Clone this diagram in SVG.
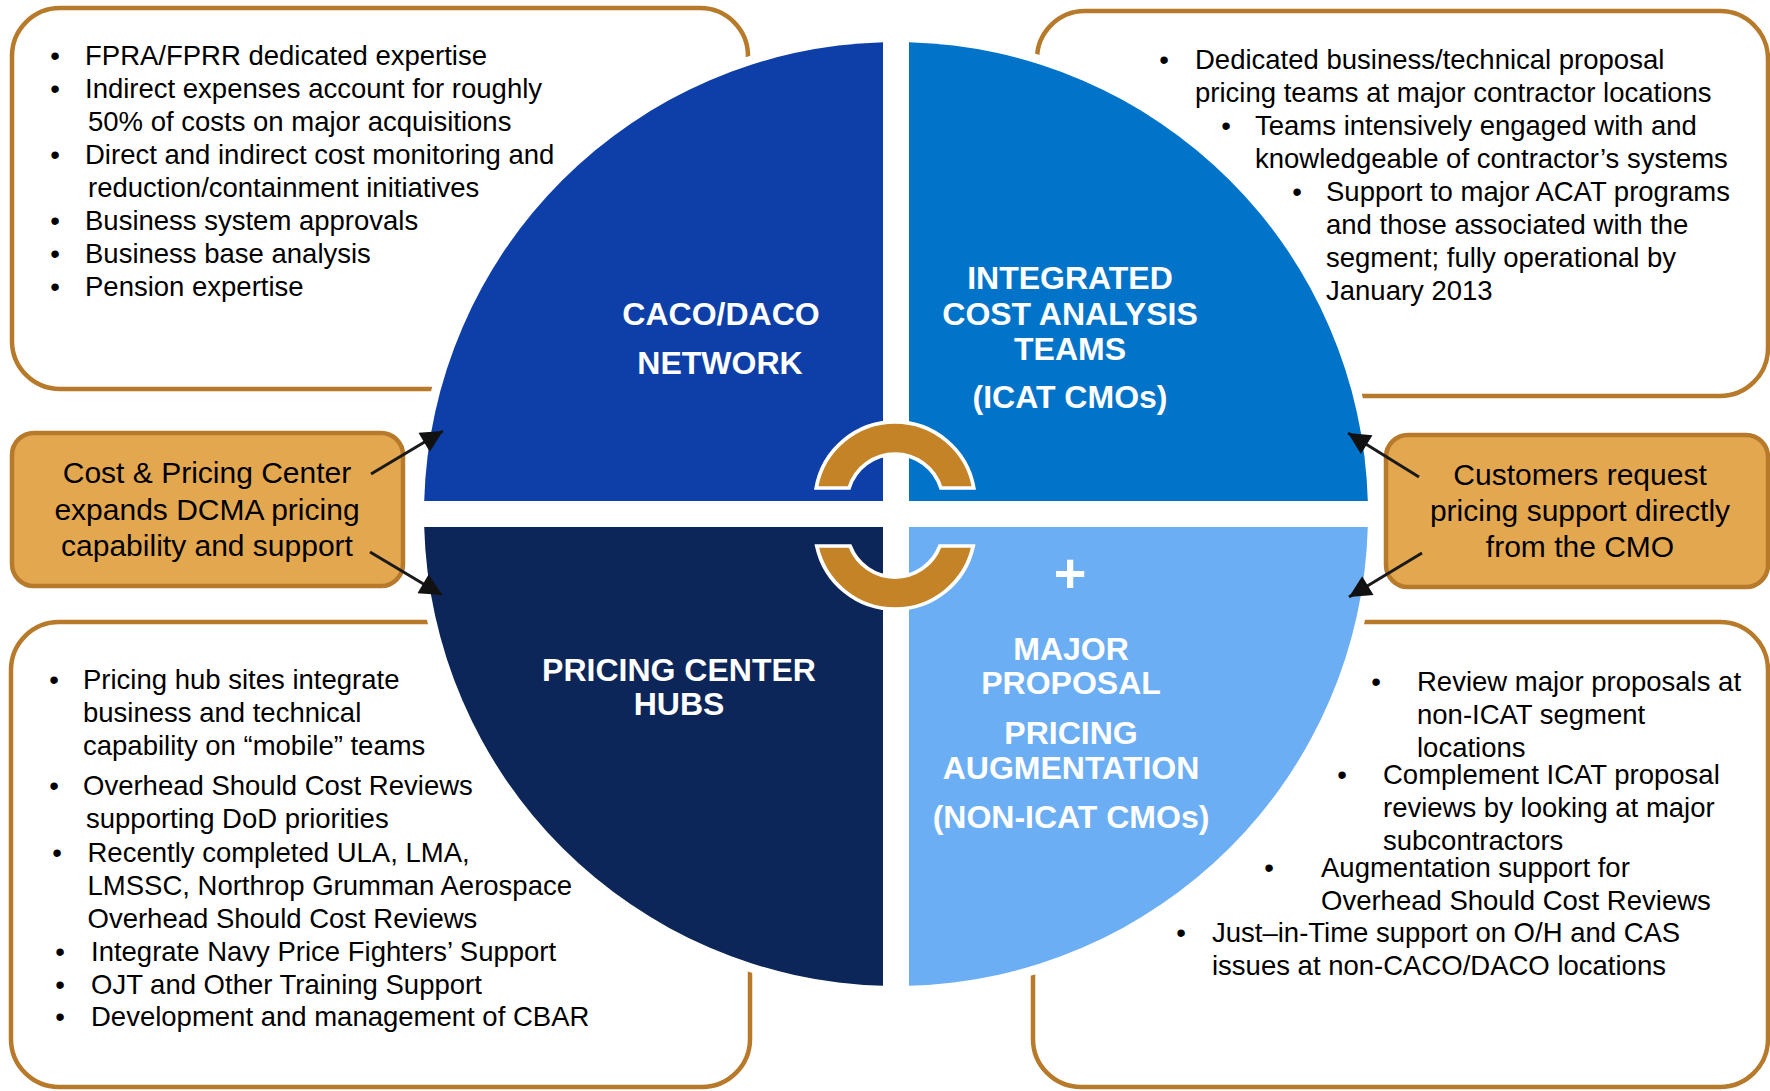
<svg xmlns="http://www.w3.org/2000/svg" width="1770" height="1091" viewBox="0 0 1770 1091">
<defs>
<style>
.box{fill:#FFFFFF;stroke:#B7792A;stroke-width:4.5}
.obox{fill:#E3A84F;stroke:#B7792A;stroke-width:4.5}
.t{font-family:"Liberation Sans",Arial,sans-serif;font-size:27.5px;fill:#000}
.bu{font-family:"Liberation Sans",Arial,sans-serif;font-size:27.5px;fill:#000;text-anchor:middle}
.ot{font-family:"Liberation Sans",Arial,sans-serif;font-size:30px;fill:#000;text-anchor:middle}
.h{font-family:"Liberation Sans",Arial,sans-serif;font-size:32px;font-weight:bold;fill:#FFFFFF;text-anchor:middle}
.arc{fill:#C48326;stroke:#FFFFFF;stroke-width:3.7;stroke-linejoin:miter}
.con{stroke:#1A1A1A;stroke-width:3;fill:none;marker-end:url(#ah)}
</style>
<marker id="ah" viewBox="0 0 10 10" refX="10" refY="5" markerUnits="userSpaceOnUse" markerWidth="27" markerHeight="22" orient="auto">
<path d="M0,0 L10,5 L0,10 z" fill="#111111"/>
</marker>
</defs>
<rect x="0" y="0" width="1770" height="1091" fill="#FFFFFF"/>

<g id="box-tl">
<rect class="box" x="12" y="8" width="736" height="381" rx="48" ry="48"/>
<text class="bu" x="55" y="65">•</text><text class="t" x="85" y="65">FPRA/FPRR dedicated expertise</text>
<text class="bu" x="55" y="98">•</text><text class="t" x="85" y="98">Indirect expenses account for roughly</text>
<text class="t" x="88" y="131">50% of costs on major acquisitions</text>
<text class="bu" x="55" y="164">•</text><text class="t" x="85" y="164">Direct and indirect cost monitoring and</text>
<text class="t" x="88" y="197">reduction/containment initiatives</text>
<text class="bu" x="55" y="230">•</text><text class="t" x="85" y="230">Business system approvals</text>
<text class="bu" x="55" y="263">•</text><text class="t" x="85" y="263">Business base analysis</text>
<text class="bu" x="55" y="296">•</text><text class="t" x="85" y="296">Pension expertise</text>
</g>

<g id="box-tr">
<rect class="box" x="1037" y="11" width="731" height="385" rx="48" ry="48"/>
<text class="bu" x="1164" y="69">•</text><text class="t" x="1195" y="69">Dedicated business/technical proposal</text>
<text class="t" x="1195" y="102">pricing teams at major contractor locations</text>
<text class="bu" x="1226" y="135">•</text><text class="t" x="1255" y="135">Teams intensively engaged with and</text>
<text class="t" x="1255" y="168">knowledgeable of contractor’s systems</text>
<text class="bu" x="1297" y="201">•</text><text class="t" x="1326" y="201">Support to major ACAT programs</text>
<text class="t" x="1326" y="234">and those associated with the</text>
<text class="t" x="1326" y="267">segment; fully operational by</text>
<text class="t" x="1326" y="300">January 2013</text>
</g>

<g id="box-bl">
<rect class="box" x="11" y="622" width="739" height="465" rx="48" ry="48"/>
<text class="bu" x="54" y="689">•</text><text class="t" x="83" y="689">Pricing hub sites integrate</text>
<text class="t" x="83" y="722">business and technical</text>
<text class="t" x="83" y="755">capability on “mobile” teams</text>
<text class="bu" x="54" y="795">•</text><text class="t" x="83" y="795">Overhead Should Cost Reviews</text>
<text class="t" x="86" y="828">supporting DoD priorities</text>
<text class="bu" x="57" y="862">•</text><text class="t" x="87.5" y="862">Recently completed ULA, LMA,</text>
<text class="t" x="87.5" y="895">LMSSC, Northrop Grumman Aerospace</text>
<text class="t" x="87.5" y="928">Overhead Should Cost Reviews</text>
<text class="bu" x="60" y="961">•</text><text class="t" x="91" y="961">Integrate Navy Price Fighters’ Support</text>
<text class="bu" x="60" y="994">•</text><text class="t" x="91" y="994">OJT and Other Training Support</text>
<text class="bu" x="60" y="1026">•</text><text class="t" x="91" y="1026">Development and management of CBAR</text>
</g>

<g id="box-br">
<rect class="box" x="1033" y="622" width="735" height="465" rx="48" ry="48"/>
<text class="bu" x="1376" y="691">•</text><text class="t" x="1417" y="691">Review major proposals at</text>
<text class="t" x="1417" y="724">non-ICAT segment</text>
<text class="t" x="1417" y="757">locations</text>
<text class="bu" x="1342" y="784">•</text><text class="t" x="1383" y="784">Complement ICAT proposal</text>
<text class="t" x="1383" y="817">reviews by looking at major</text>
<text class="t" x="1383" y="850">subcontractors</text>
<text class="bu" x="1269" y="877">•</text><text class="t" x="1321" y="877">Augmentation support for</text>
<text class="t" x="1321" y="910">Overhead Should Cost Reviews</text>
<text class="bu" x="1181" y="942">•</text><text class="t" x="1212" y="942">Just–in-Time support on O/H and CAS</text>
<text class="t" x="1212" y="975">issues at non-CACO/DACO locations</text>
</g>

<g id="box-left-orange">
<rect class="obox" x="12" y="433" width="391" height="153" rx="22" ry="22"/>
<text class="ot" x="207" y="483">Cost &amp; Pricing Center</text>
<text class="ot" x="207" y="520">expands DCMA pricing</text>
<text class="ot" x="207" y="556">capability and support</text>
</g>

<g id="box-right-orange">
<rect class="obox" x="1386" y="435" width="382" height="152" rx="22" ry="22"/>
<text class="ot" x="1580" y="485">Customers request</text>
<text class="ot" x="1580" y="521">pricing support directly</text>
<text class="ot" x="1580" y="557">from the CMO</text>
</g>

<circle id="halo" cx="896" cy="514" r="481" fill="#FFFFFF"/>

<g id="q-caco">
<path d="M883,501 L883,42.2 A472,472 0 0 0 424.2,501 Z" fill="#0E3FA8"/>
<text class="h" x="721" y="325">CACO/DACO</text>
<text class="h" x="720" y="374">NETWORK</text>
</g>

<g id="q-icat">
<path d="M909,501 L1367.8,501 A472,472 0 0 0 909,42.2 Z" fill="#0174C9"/>
<text class="h" x="1070" y="289">INTEGRATED</text>
<text class="h" x="1070" y="325">COST ANALYSIS</text>
<text class="h" x="1070" y="360">TEAMS</text>
<text class="h" x="1070" y="408">(ICAT CMOs)</text>
</g>

<g id="q-hubs">
<path d="M883,527 L424.2,527 A472,472 0 0 0 883,985.8 Z" fill="#0C2659"/>
<text class="h" x="679" y="681">PRICING CENTER</text>
<text class="h" x="679" y="715">HUBS</text>
</g>

<g id="q-major">
<path d="M909,527 L909,985.8 A472,472 0 0 0 1367.8,527 Z" fill="#6CAEF4"/>
<text class="h" x="1070" y="592" style="font-size:56px">+</text>
<text class="h" x="1071" y="660">MAJOR</text>
<text class="h" x="1071" y="694">PROPOSAL</text>
<text class="h" x="1071" y="744">PRICING</text>
<text class="h" x="1071" y="779">AUGMENTATION</text>
<text class="h" x="1071" y="828">(NON-ICAT CMOs)</text>
</g>

<g id="links">
<path class="arc" d="M816.2,488 A80,80 0 0 1 973.8,488 L940.9,488 A48,48 0 0 0 849.1,488 Z"/>
<path class="arc" d="M816.8,546 A80,80 0 0 0 973.2,546 L939.9,546 A48,48 0 0 1 850.1,546 Z"/>
</g>

<g id="connectors">
<line class="con" x1="371" y1="474" x2="443" y2="431"/>
<line class="con" x1="370" y1="552" x2="442" y2="595"/>
<line class="con" x1="1419" y1="477" x2="1348" y2="433"/>
<line class="con" x1="1422" y1="553" x2="1349" y2="597"/>
</g>
</svg>
